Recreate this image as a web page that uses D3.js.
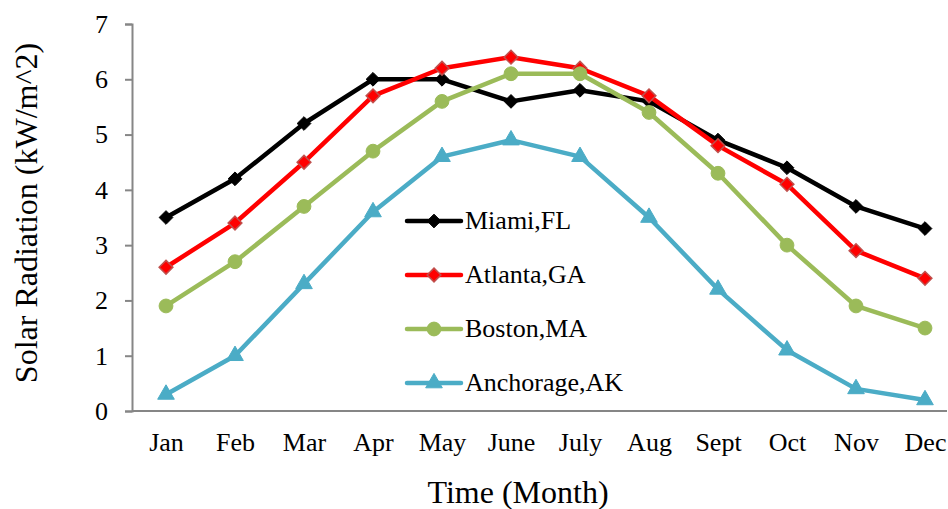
<!DOCTYPE html>
<html>
<head>
<meta charset="utf-8">
<script src="https://cdn.jsdelivr.net/npm/d3@7"></script>
<style>
  html, body { margin: 0; padding: 0; background: #fff; }
  svg text { font-family: "Liberation Serif", "Times New Roman", serif; fill: #000; }
</style>
</head>
<body>
<svg id="chart" width="948" height="509"></svg>
<script>
// Average monthly solar radiation by city
const months = ["Jan", "Feb", "Mar", "Apr", "May", "June", "July", "Aug", "Sept", "Oct", "Nov", "Dec"];
const miami     = [3.5, 4.2, 5.2, 6.0, 6.0, 5.6, 5.8, 5.6, 4.9, 4.4, 3.7, 3.3];
const atlanta   = [2.6, 3.4, 4.5, 5.7, 6.2, 6.4, 6.2, 5.7, 4.8, 4.1, 2.9, 2.4];
const boston    = [1.9, 2.7, 3.7, 4.7, 5.6, 6.1, 6.1, 5.4, 4.3, 3.0, 1.9, 1.5];
const anchorage = [0.3, 1.0, 2.3, 3.6, 4.6, 4.9, 4.6, 3.5, 2.2, 1.1, 0.4, 0.2];
const yTicks = [0, 1, 2, 3, 4, 5, 6, 7];

const series = [
  { name: "Miami,FL",     values: miami,     color: "#000000", marker: "diamond", mFill: "#000000", mStroke: "#000000" },
  { name: "Atlanta,GA",   values: atlanta,   color: "#FF0000", marker: "diamond", mFill: "#FF0000", mStroke: "#C0504D" },
  { name: "Boston,MA",    values: boston,    color: "#9BBB59", marker: "circle",  mFill: "#9BBB59", mStroke: "#9BBB59" },
  { name: "Anchorage,AK", values: anchorage, color: "#4BACC6", marker: "triangle", mFill: "#4BACC6", mStroke: "#4BACC6" }
];

const svg = d3.select("#chart");
const plot = { left: 132, right: 947, top: 24, bottom: 411 };

const x = d3.scalePoint().domain(months).range([166, 925]);
const y = d3.scaleLinear().domain([0, 7]).range([plot.bottom, plot.top]);

// Y axis
const yAxis = svg.append("g").attr("transform", `translate(${plot.left},0)`)
  .call(d3.axisLeft(y).tickValues(yTicks).tickSize(7).tickPadding(17).tickFormat(d3.format("d")));
yAxis.attr("font-family", null).attr("font-size", null);
yAxis.select(".domain").attr("stroke", "#868686").attr("stroke-width", 2);
yAxis.selectAll(".tick line").attr("stroke", "#868686").attr("stroke-width", 2);
yAxis.selectAll(".tick text").style("font-size", "26px");

// X axis
const xAxis = svg.append("g").attr("transform", `translate(0,${plot.bottom})`)
  .call(d3.axisBottom(x).tickSize(0).tickPadding(22));
xAxis.attr("font-family", null).attr("font-size", null);
xAxis.select(".domain").attr("d", `M${plot.left},0H${plot.right}`)
  .attr("stroke", "#868686").attr("stroke-width", 2);
xAxis.selectAll(".tick text").style("font-size", "26px");

// Axis titles
svg.append("text")
  .attr("x", 518).attr("y", 503)
  .attr("text-anchor", "middle")
  .style("font-size", "32px")
  .text("Time (Month)");
svg.append("text")
  .attr("transform", "translate(37,213) rotate(-90)")
  .attr("text-anchor", "middle")
  .style("font-size", "32px")
  .text("Solar Radiation (kW/m^2)");

const line = d3.line().x((d, i) => x(months[i])).y(d => y(d));

const symbolFor = {
  diamond: d3.symbol().type(d3.symbolDiamond2).size(120),
  circle: d3.symbol().type(d3.symbolCircle).size(150),
  triangle: d3.symbol().type(d3.symbolTriangle).size(120)
};

function drawMarker(g, s, cx, cy) {
  g.append("path")
    .attr("d", symbolFor[s.marker]())
    .attr("transform", `translate(${cx},${cy})`)
    .attr("fill", s.mFill)
    .attr("stroke", s.mStroke)
    .attr("stroke-width", s.name === "Atlanta,GA" ? 1.5 : 1);
}

// Draw series in order: each later series sits above the earlier ones
series.forEach(s => {
  const g = svg.append("g");
  g.append("path")
    .datum(s.values)
    .attr("fill", "none")
    .attr("stroke", s.color)
    .attr("stroke-width", 4.5)
    .attr("stroke-linejoin", "round")
    .attr("d", line);
  s.values.forEach((v, i) => drawMarker(g, s, x(months[i]), y(v)));
});

// Legend
const legend = svg.append("g");
series.forEach((s, i) => {
  const ly = 221 + i * 54;
  const g = legend.append("g");
  g.append("line")
    .attr("x1", 407).attr("x2", 461).attr("y1", ly).attr("y2", ly)
    .attr("stroke", s.color).attr("stroke-width", 4.5).attr("stroke-linecap", "round");
  drawMarker(g, s, 434, ly);
  g.append("text")
    .attr("x", 465).attr("y", ly + 8)
    .style("font-size", "26px")
    .text(s.name);
});
</script>
</body>
</html>
